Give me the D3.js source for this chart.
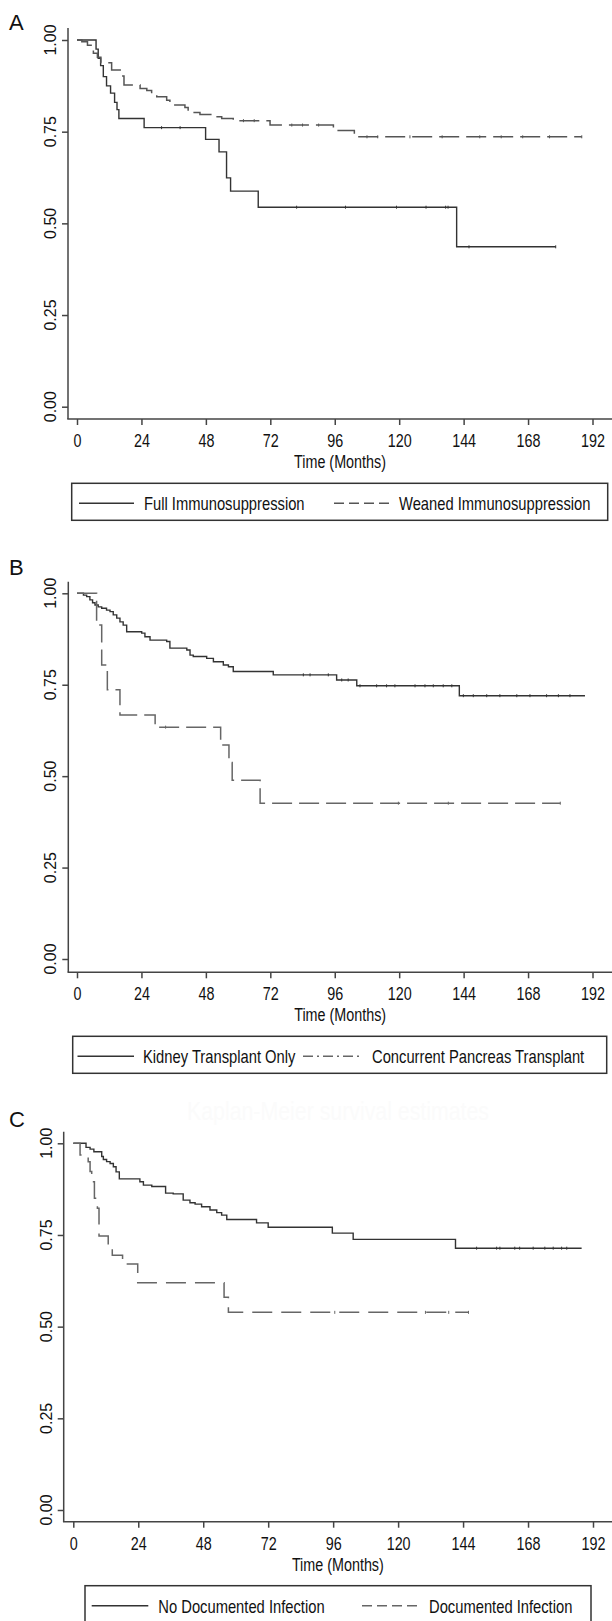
<!DOCTYPE html>
<html lang="en">
<head>
<meta charset="UTF-8">
<title>Kaplan-Meier survival curves</title>
<script src="https://d3js.org/d3.v7.min.js"></script>
<style>
    body { margin: 0; background: #fff; }
    .narrow { font-family: "Liberation Sans", Arial, sans-serif; font-size: 17.5px; fill: #111; }
    .ylab { font-family: "Liberation Sans", Arial, sans-serif; font-size: 16px; fill: #111; }
    .letter { font-family: "Liberation Sans", Arial, sans-serif; font-size: 22px; fill: #111; }
    .axis path, .axis line { stroke: #444; stroke-width: 1.5; }
</style>
</head>
<body>
<div id="chart"></div>

<script>
// shared ticks
var monthTicks = [0, 24, 48, 72, 96, 120, 144, 168, 192];
var survTicks = [0, 0.25, 0.5, 0.75, 1];

// panel A: [month, survival from that month on]; last point = end of follow-up
var fullImmuno = [[0, 1], [7.1, 0.975], [7.9, 0.95], [8.8, 0.93], [9.8, 0.90], [11, 0.875], [12.5, 0.855],
    [14, 0.83], [14.9, 0.81], [15.6, 0.786], [25, 0.761], [47.9, 0.729], [52.9, 0.695], [55.7, 0.624],
    [57.2, 0.588], [67.5, 0.544], [141.4, 0.436], [178.3, 0.436]];
var fullImmunoCens = [31.5, 38.4, 81.8, 100, 119, 130, 137.3, 138.2, 146, 178.3];
var weanedImmuno = [[0, 1], [1.8, 0.995], [3.9, 0.986], [6.1, 0.964], [7.6, 0.953], [8.9, 0.938], [12.9, 0.918],
    [16.4, 0.902], [17.5, 0.877], [23.5, 0.868], [26, 0.862], [27.8, 0.852], [29.7, 0.845], [33.4, 0.836],
    [34.6, 0.823], [40.2, 0.816], [41.4, 0.802], [45.8, 0.797], [51.4, 0.791], [53.9, 0.786], [58.2, 0.78],
    [71.9, 0.768], [95.5, 0.753], [103.3, 0.736], [188, 0.736]];
var weanedImmunoCens = [62, 66, 80, 84, 90, 108, 112, 124, 136, 150, 158, 166, 176, 188];

// panel B
var kidneyOnly = [[0, 1], [2.4, 0.995], [3.6, 0.991], [4.8, 0.982], [5.8, 0.974], [6.7, 0.968], [7.9, 0.963],
    [9.2, 0.959], [11, 0.954], [12.3, 0.95], [13.5, 0.941], [14.8, 0.932], [16, 0.922], [17.2, 0.913],
    [18.5, 0.895], [24.1, 0.891], [25.3, 0.881], [27.2, 0.872], [33.4, 0.868], [34.6, 0.85], [40.9, 0.845],
    [42.1, 0.831], [43.3, 0.827], [48.3, 0.822], [50.8, 0.813], [54.5, 0.804], [56.4, 0.799], [58.2, 0.786],
    [73.1, 0.777], [96.7, 0.763], [104.2, 0.747], [142.4, 0.72], [189.2, 0.72]];
var kidneyOnlyCens = [84.3, 86.8, 93.6, 98.6, 101, 105.4, 111.6, 115.3, 118.4, 125.9, 129.6, 132.7, 136.4,
    139.6, 143.9, 147.6, 152.6, 157.5, 163.8, 168.7, 174.9, 179.3, 183.6];
var pancreas = [[0, 1], [7.3, 0.913], [9.2, 0.804], [11.3, 0.736], [16, 0.667], [29.1, 0.634], [53.5, 0.585],
    [56.6, 0.537], [57.8, 0.489], [68.2, 0.426], [180, 0.426]];
var pancreasCens = [33, 119.7, 138.3, 180];

// panel C
var noInfection = [[0, 1], [4.7, 0.989], [6.2, 0.984], [7.6, 0.977], [10.5, 0.964], [11.1, 0.956], [12.3, 0.95],
    [13.6, 0.945], [14.8, 0.936], [15.8, 0.922], [17, 0.903], [24.6, 0.895], [25.9, 0.886], [29, 0.882],
    [34.1, 0.864], [36.9, 0.862], [40.6, 0.845], [43.1, 0.838], [45, 0.834], [47.4, 0.827], [50.5, 0.818],
    [53, 0.811], [54.8, 0.804], [56.7, 0.792], [67.7, 0.783], [72, 0.771], [95.7, 0.755], [103.4, 0.738],
    [141.2, 0.714], [187.8, 0.714]];
var noInfectionCens = [149, 156.4, 157.6, 163.1, 164.9, 169.9, 174.2, 177.3, 180.4, 182.3];
var infection = [[0, 1], [2.5, 0.968], [5.5, 0.95], [6.2, 0.923], [6.8, 0.895], [7.8, 0.85], [8.9, 0.823],
    [9.5, 0.747], [12.9, 0.723], [14.4, 0.695], [18.2, 0.671], [23.8, 0.62], [55.7, 0.58], [57.3, 0.539],
    [146, 0.539]];
var infectionCens = [96.6, 130.1, 138.7, 146];

var panels = [
    { letter: "A", letterY: 30, yAxisX: 68, axisTop: 28, yTop: 40, yZero: 406.7, xAxisY: 419, x0: 77, x1: 592.5,
      legend: { top: 483.3, left: 71.7, right: 607.7, s1: [79, 134], t1: 144, s2: [334, 390], t2: 399 },
      series: [
        { name: "Full Immunosuppression", data: fullImmuno, cens: fullImmunoCens, color: "#333", dash: null, width: 1.4 },
        { name: "Weaned Immunosuppression", data: weanedImmuno, cens: weanedImmunoCens, color: "#555", dash: "20,7", width: 1.5, legendDash: "10,5" }
      ] },
    { letter: "B", letterY: 575, yAxisX: 68.3, axisTop: 581.7, yTop: 593.3, yZero: 959, xAxisY: 972.3, x0: 77, x1: 592.5,
      legend: { top: 1036.3, left: 72.7, right: 606.7, s1: [77.5, 134], t1: 143, s2: [303, 362], t2: 372 },
      series: [
        { name: "Kidney Transplant Only", data: kidneyOnly, cens: kidneyOnlyCens, color: "#333", dash: null, width: 1.4 },
        { name: "Concurrent Pancreas Transplant", data: pancreas, cens: pancreasCens, color: "#666", dash: "20,7", width: 1.5, legendDash: "10,4,2,4" }
      ] },
    { letter: "C", letterY: 1127, yAxisX: 63.7, axisTop: 1131.7, yTop: 1143.3, yZero: 1510, xAxisY: 1521.7, x0: 73.3, x1: 593,
      legend: { top: 1585.7, left: 85, right: 591, s1: [91.7, 148.3], t1: 158.3, s2: [362, 419.6], t2: 429 },
      watermark: "Kaplan-Meier survival estimates",
      series: [
        { name: "No Documented Infection", data: noInfection, cens: noInfectionCens, color: "#333", dash: null, width: 1.4 },
        { name: "Documented Infection", data: infection, cens: infectionCens, color: "#666", dash: "20,9", width: 1.5, legendDash: "10,5" }
      ] }
];

var W = 612, H = 1621;
var SQUEEZE = 0.82;   // no condensed font installed, so squeeze Liberation Sans

var svg = d3.select("#chart").append("svg")
    .attr("width", W)
    .attr("height", H);

function narrowText(g, x, y, txt) {
    return g.append("text").attr("class", "narrow")
        .attr("transform", "translate(" + x + "," + y + ") scale(" + SQUEEZE + ",1)")
        .text(txt);
}

panels.forEach(function(p) {
    var x = d3.scaleLinear().domain([0, 192]).range([p.x0, p.x1]);
    var y = d3.scaleLinear().domain([0, 1]).range([p.yZero, p.yTop]);
    var g = svg.append("g");

    g.append("text").attr("class", "letter")
        .attr("x", 9).attr("y", p.letterY)
        .text(p.letter);

    // almost invisible leftover title in the scan
    if (p.watermark) {
        narrowText(g, 338, p.axisTop - 12, p.watermark)
            .attr("text-anchor", "middle")
            .style("font-size", "26px").style("fill", "#fbfbfb");
    }

    // y axis
    var yAxis = g.append("g").attr("class", "axis")
        .attr("transform", "translate(" + p.yAxisX + ",0)")
        .call(d3.axisLeft(y).tickValues(survTicks).tickSize(6).tickSizeOuter(0));
    yAxis.select(".domain").remove();
    yAxis.selectAll("text").remove();
    g.append("line")
        .attr("x1", p.yAxisX).attr("x2", p.yAxisX)
        .attr("y1", p.axisTop).attr("y2", p.xAxisY)
        .attr("stroke", "#444").attr("stroke-width", 1.5);
    g.selectAll(".ylab-" + p.letter)
        .data(survTicks).enter()
        .append("text").attr("class", "ylab")
        .attr("text-anchor", "middle")
        .attr("transform", function(d) { return "translate(" + (p.yAxisX - 12) + "," + y(d) + ") rotate(-90)"; })
        .text(d3.format(".2f"));

    // x axis
    var xAxis = g.append("g").attr("class", "axis")
        .attr("transform", "translate(0," + p.xAxisY + ")")
        .call(d3.axisBottom(x).tickValues(monthTicks).tickSize(6).tickSizeOuter(0));
    xAxis.select(".domain").remove();
    xAxis.attr("font-family", null).attr("font-size", null);
    xAxis.selectAll("text")
        .attr("class", "narrow")
        .attr("y", null).attr("dy", null)
        .attr("transform", "translate(0,28) scale(" + SQUEEZE + ",1)");
    g.append("line")
        .attr("x1", p.yAxisX - 0.75).attr("x2", W)
        .attr("y1", p.xAxisY).attr("y2", p.xAxisY)
        .attr("stroke", "#444").attr("stroke-width", 1.5);

    narrowText(g, (p.yAxisX + W) / 2, p.xAxisY + 49, "Time (Months)")
        .attr("text-anchor", "middle");

    // curves
    var line = d3.line()
        .x(function(d) { return x(d[0]); })
        .y(function(d) { return y(d[1]); })
        .curve(d3.curveStepAfter);

    p.series.forEach(function(s) {
        g.append("path")
            .attr("d", line(s.data))
            .attr("fill", "none")
            .attr("stroke", s.color)
            .attr("stroke-width", s.width)
            .attr("stroke-dasharray", s.dash);

        // censoring marks
        var levelAt = function(t) {
            var v = s.data[0][1];
            s.data.forEach(function(d) { if (d[0] <= t) v = d[1]; });
            return v;
        };
        g.selectAll(null)
            .data(s.cens).enter()
            .append("line")
            .attr("x1", function(d) { return x(d); })
            .attr("x2", function(d) { return x(d); })
            .attr("y1", function(d) { return y(levelAt(d)) - 1.5; })
            .attr("y2", function(d) { return y(levelAt(d)) + 1.5; })
            .attr("stroke", s.color)
            .attr("stroke-width", 1);
    });

    // legend
    var L = p.legend;
    g.append("rect")
        .attr("x", L.left).attr("y", L.top)
        .attr("width", L.right - L.left).attr("height", 37)
        .attr("fill", "none").attr("stroke", "#333").attr("stroke-width", 1.5);
    var ly = L.top + 20;
    [[L.s1, L.t1, p.series[0]], [L.s2, L.t2, p.series[1]]].forEach(function(it) {
        var s = it[2];
        g.append("line")
            .attr("x1", it[0][0]).attr("x2", it[0][1])
            .attr("y1", ly).attr("y2", ly)
            .attr("stroke", s.color).attr("stroke-width", 1.5)
            .attr("stroke-dasharray", s.legendDash || null);
        narrowText(g, it[1], L.top + 27, s.name)
            .style("font-size", "18px");
    });
});
</script>
</body>
</html>
